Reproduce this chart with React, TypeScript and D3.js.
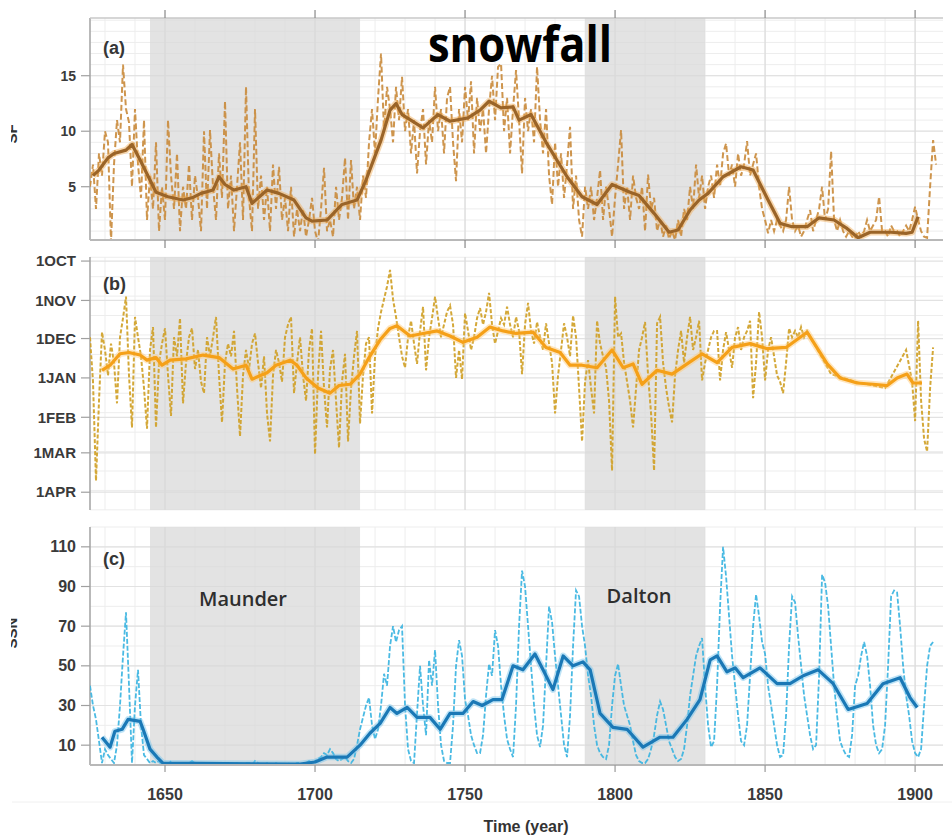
import React from 'react';
import * as d3 from 'd3';

const W = 952;
const H = 836;

// ---------- axis / categories ----------
const xDomain = [1625, 1909.3];
const xMajorYears = [1650, 1700, 1750, 1800, 1850, 1900];
const xMinorYears = d3.range(1630, 1910, 10);
const maunder = [1645, 1715];
const dalton = [1790, 1830];

const aTicks = [5, 10, 15];
const bTickDays = [0, 31, 61, 92, 123, 151, 182];
const bTickLabels = ['1OCT', '1NOV', '1DEC', '1JAN', '1FEB', '1MAR', '1APR'];
const cTicks = [10, 30, 50, 70, 90, 110];

// ---------- (a) snowfall ----------
const rawAStart = 1625;
const rawA = [
  5, 7, 3, 8, 6, 10, 9, 0, 7, 11,
  9, 16, 12, 10.8, 5, 12, 7, 4, 11, 2,
  6, 3, 9, 1, 5, 2, 11, 6, 3, 8,
  1, 5, 3, 7, 2, 6, 4, 1, 10, 3,
  10.1, 5, 2, 8, 4, 12.7, 3, 6, 1, 5,
  9, 2, 14, 4, 1, 12, 3, 6, 2, 5,
  1, 7, 3, 6.8, 2, 4, 1, 5, 0.5, 3,
  1, 3, 0.5, 2, 4, 1, 0, 3, 6.7, 1,
  2, 0.5, 5, 2, 4, 7.6, 2, 7.4, 3, 5,
  2, 6, 4, 9, 12, 8, 13, 17, 10, 14,
  12, 9, 14, 11, 14.9, 10, 12, 8, 11, 6.2,
  10, 12, 7, 11, 9, 14, 10, 12, 8, 13,
  14, 9, 5.5, 12, 9, 14, 11, 14.5, 8, 13,
  10, 12, 8, 12, 15, 11, 15.8, 16.1, 10, 13,
  8, 12, 15.5, 11, 6.2, 13, 10, 12, 9, 15.8,
  11, 8, 12, 6, 3.4, 9, 5, 8, 4, 7,
  10.4, 3, 6, 2, 0.5, 5, 3, 5, 2, 4,
  6.5, 2, 5, 3, 0.5, 4, 7, 10.1, 3, 5,
  2, 6, 4, 3, 5, 1, 6.1, 3, 4, 1,
  2, 0.5, 1.5, 0.3, 1, 0.2, 2, 0.5, 3, 2,
  5, 3, 7, 4, 6, 3, 5, 6, 4, 7,
  5, 8, 8.9, 6, 7, 5, 8, 6, 7, 9.1,
  6, 7, 8, 5, 3, 2, 0.8, 2, 1, 2,
  1.5, 1, 2, 5, 2, 1, 1.5, 0.5, 1, 2,
  2.9, 1, 2, 3, 5, 2, 3, 8.2, 2, 1,
  2, 1, 0.5, 1, 0.5, 0.3, 1, 0.5, 1, 2,
  1, 1.5, 2, 4.1, 1, 1, 0.5, 1.5, 1, 1,
  0.5, 1, 1.5, 1, 2, 3.2, 2, 1, 0.5, 0.4,
  5, 9.2, 7,
];
const smoothAYears = [1626, 1628, 1631, 1633, 1637, 1639, 1641.7, 1645, 1647, 1651, 1656, 1659, 1662, 1666, 1668, 1670, 1673, 1677, 1679, 1684, 1688, 1693, 1697, 1699, 1704, 1709, 1714, 1717, 1722, 1725, 1727, 1729, 1736, 1741, 1745, 1751, 1755, 1758, 1762, 1766, 1768, 1772, 1777, 1784, 1789, 1794, 1799, 1805, 1808, 1813, 1818, 1821, 1825, 1828, 1831, 1836, 1842, 1846, 1851, 1855, 1859, 1864, 1868, 1873, 1877, 1881, 1885, 1892, 1897, 1899, 1901];
const smoothAVals = [6.0, 6.5, 7.6, 8.0, 8.3, 8.8, 7.4, 5.6, 4.5, 4.1, 3.8, 4.0, 4.4, 4.7, 5.9, 5.2, 4.7, 5.0, 3.5, 4.7, 4.4, 3.8, 2.2, 1.9, 2.0, 3.4, 3.8, 5.6, 9.2, 11.9, 12.5, 11.5, 10.3, 11.5, 10.9, 11.2, 11.9, 12.7, 12.1, 12.2, 11.0, 11.5, 9.0, 5.9, 4.1, 3.4, 5.2, 4.5, 4.2, 2.6, 0.9, 1.1, 2.9, 3.8, 4.4, 5.9, 6.8, 6.5, 3.8, 1.7, 1.4, 1.4, 2.2, 2.0, 1.3, 0.4, 0.9, 0.9, 0.8, 0.9, 2.3];

// ---------- (b) date of first snow (days after 1 Oct) ----------
const rawBStart = 1625;
const rawB = [
  60, 95, 173, 110, 56, 70, 90, 65, 80, 112,
  60, 45, 28, 90, 131, 44, 60, 75, 100, 132,
  70, 52, 131, 80, 65, 53, 90, 122, 60, 75,
  45, 112, 80, 60, 53, 85, 70, 95, 104, 60,
  75, 60, 44, 90, 127, 80, 65, 75, 55, 100,
  138, 90, 70, 85, 65, 57, 80, 100, 75, 120,
  142, 90, 70, 80, 95, 60, 50, 44, 104, 80,
  60, 90, 110, 70, 53, 152, 90, 55, 100, 131,
  85, 70, 110, 147, 95, 73, 142, 100, 75, 55,
  128, 90, 65, 60, 120, 75, 53, 40, 30, 20,
  7, 30, 44, 60, 75, 84, 60, 47, 65, 81,
  55, 36, 86, 60, 45, 28, 45, 60, 50, 40,
  35, 50, 92, 70, 93, 41, 55, 70, 60, 45,
  37, 50, 40, 25, 50, 65, 55, 45, 50, 36,
  50, 60, 44, 55, 89, 50, 33, 55, 65, 48,
  60, 70, 49, 65, 80, 120, 90, 70, 49, 60,
  75, 43, 60, 100, 142, 95, 78, 100, 120, 47,
  65, 75, 84, 110, 165, 28, 60, 57, 80, 95,
  110, 131, 100, 70, 60, 48, 90, 120, 165, 49,
  44, 80, 100, 115, 127, 90, 70, 55, 80, 60,
  44, 70, 60, 47, 94, 80, 70, 60, 55, 55,
  94, 70, 56, 70, 84, 60, 52, 70, 60, 55,
  47, 108, 80, 40, 60, 94, 70, 60, 75, 90,
  95, 104, 80, 53, 60, 55, 60, 52, 60, 55,
];
const rawBLateYears = [1872, 1880, 1890, 1897, 1899, 1900, 1901, 1902, 1903, 1904, 1905, 1906];
const rawBLateVals = [89, 95, 100, 70, 95, 126, 47, 110, 140, 150, 100, 68];
const smoothBYears = [1629, 1631.7, 1635, 1638, 1641.7, 1644, 1647, 1649, 1651.7, 1657, 1662.7, 1668, 1672.7, 1677, 1679, 1684, 1687, 1691.7, 1694, 1697, 1701, 1705, 1708, 1711.7, 1715, 1718, 1721.7, 1725, 1727.3, 1731.7, 1736, 1740.7, 1745, 1749.3, 1754, 1758.3, 1762.7, 1767, 1772.7, 1777, 1781.7, 1785, 1789, 1794, 1799, 1802.7, 1806, 1809, 1814, 1819, 1824, 1829, 1834, 1839, 1845, 1850.7, 1857, 1864, 1870.7, 1875, 1880.7, 1886, 1890.7, 1894, 1897.3, 1899.3, 1902.3];
const smoothBVals = [86, 82, 73, 72, 74, 78, 76, 82, 78, 77, 74, 76, 85, 82, 93, 88, 82, 78, 82, 92, 100, 104, 98, 97, 89, 76, 62, 53, 51, 59, 57, 55, 59, 64, 60, 52, 55, 57, 56, 68, 72, 82, 82, 84, 70, 84, 81, 97, 86, 89, 81, 73, 80, 68, 65, 69, 68, 56, 81, 92, 96, 97, 98, 92, 89, 96, 96];

// ---------- (c) sunspot number ----------
const rawCStart = 1625;
const rawC = [
  40, 30, 23, 12, 1, 8, 5, 3, 1, 10,
  30, 55, 77, 40, 1, 30, 48, 20, 5, 3,
  1, 2, 1, 2, 0, 1, 0, 2, 0, 0,
  1, 0, 0, 1, 2, 1, 0, 0, 1, 0,
  0, 1, 0, 0, 0, 1, 1, 0, 0, 1,
  0, 0, 1, 1, 0, 2, 1, 0, 0, 1,
  0, 0, 1, 0, 0, 0, 1, 0, 0, 1,
  1, 0, 1, 2, 1, 2, 3, 4, 6, 5,
  8, 6, 3, 2, 3, 4, 2, 1, 3, 10,
  18, 24, 30, 34, 20, 13, 18, 30, 46, 40,
  60, 70, 62, 68, 70, 30, 8, 2, 1, 26,
  50, 30, 15, 53, 40, 58, 30, 10, 2, 1,
  1, 20, 50, 63, 55, 33, 25, 15, 10, 6,
  6, 15, 35, 51, 45, 68, 60, 40, 25, 13,
  8, 4, 30, 70, 98, 90, 70, 50, 30, 15,
  9, 20, 50, 80, 72, 55, 40, 25, 10, 4,
  25, 60, 88, 85, 70, 60, 45, 35, 20, 10,
  6, 4, 3, 10, 30, 45, 51, 40, 30, 25,
  20, 12, 5, 2, 1, 1, 3, 8, 15, 25,
  32, 28, 20, 12, 8, 4, 2, 3, 8, 20,
  35, 45, 55, 60, 64, 40, 20, 9, 12, 40,
  80, 110, 95, 75, 55, 40, 25, 12, 10, 20,
  45, 70, 86, 75, 62, 56, 40, 30, 20, 10,
  4, 5, 25, 60, 85, 82, 65, 50, 35, 25,
  15, 8, 10, 45, 96, 92, 80, 60, 40, 25,
  12, 8, 5, 4, 15, 40, 45, 55, 62, 55,
  40, 20, 10, 6, 8, 20, 50, 85, 88, 87,
  70, 50, 35, 25, 12, 6, 4, 8, 30, 50,
  60, 62,
];
const smoothCYears = [1629, 1631.7, 1633.3, 1635.7, 1637.7, 1641.7, 1642.7, 1645, 1647.3, 1649.3, 1660, 1680, 1695, 1700, 1704, 1710.7, 1715, 1718.3, 1721.7, 1725, 1727.3, 1730.7, 1734, 1738.3, 1741.7, 1745, 1749.3, 1752.7, 1755.7, 1759.3, 1762.3, 1766, 1769.3, 1773.3, 1776, 1779.3, 1782.7, 1786, 1789.3, 1791.7, 1795, 1799.3, 1804, 1809.3, 1815, 1819.3, 1824, 1828.3, 1831.7, 1834, 1837.3, 1840, 1842.7, 1848.3, 1854, 1858.3, 1862.7, 1867.7, 1872.7, 1877.7, 1884, 1889.3, 1895, 1898.3, 1900.7];
const smoothCVals = [14, 9, 17, 18, 23, 22, 18, 8, 4, 1, 0.8, 0.6, 0.5, 1.5, 4, 4, 10, 16, 21, 29, 26, 29, 24, 24, 18, 26, 26, 32, 30, 33, 33, 50, 48, 56, 48, 38, 55, 50, 52, 48, 26, 19, 18, 9, 14, 14, 23, 33, 53, 55, 47, 49, 44, 49, 41, 41, 45, 48, 41, 28, 31, 41, 44, 34, 29];

// ---------- helpers ----------
const x = d3.scaleLinear().domain(xDomain).range([90, 943]);
const X0 = 90;
const X1 = 943;

const annual = (start: number, vals: number[]) => vals.map((v, i) => [start + i, v] as [number, number]);
const pairs = (ys: number[], vs: number[]) => ys.map((y, i) => [y, vs[i]] as [number, number]);

const TICK_FONT = '"Liberation Sans", Arial, sans-serif';

type PanelProps = {
  id: string;
  top: number;
  bottom: number;
  y: d3.ScaleLinear<number, number>;
  ticks: number[];
  tickLabels: string[];
  minor: number[];
  fontSize: number;
  label: string;
  labelY: number;
  raw: [number, number][];
  smooth: [number, number][];
  rawColor: string;
  rawWidth: number;
  smoothColor: string;
  haloColor: string;
  dash: string;
};

function Panel(p: PanelProps) {
  const line = d3
    .line<[number, number]>()
    .x((d) => x(d[0]))
    .y((d) => p.y(d[1]));
  const h = p.bottom - p.top;
  return (
    <g>
      <defs>
        <clipPath id={`clip-${p.id}`}>
          <rect x={X0} y={p.top} width={X1 - X0} height={h} />
        </clipPath>
      </defs>
      <rect x={X0} y={p.top} width={X1 - X0} height={h} fill="#ffffff" />
      {p.minor.map((v, i) => (
        <line key={'hm' + i} x1={X0} x2={X1} y1={p.y(v)} y2={p.y(v)} stroke="#ededed" strokeWidth={1} />
      ))}
      {xMinorYears.map((yr) => (
        <line key={'vm' + yr} x1={x(yr)} x2={x(yr)} y1={p.top} y2={p.bottom} stroke="#ededed" strokeWidth={1} />
      ))}
      {p.ticks.map((v, i) => (
        <line key={'hM' + i} x1={X0} x2={X1} y1={p.y(v)} y2={p.y(v)} stroke="#e2e2e2" strokeWidth={1.2} />
      ))}
      {xMajorYears.map((yr) => (
        <line key={'vM' + yr} x1={x(yr)} x2={x(yr)} y1={p.top} y2={p.bottom} stroke="#dcdcdc" strokeWidth={1.2} />
      ))}
      {[maunder, dalton].map((r, i) => (
        <rect key={'sh' + i} x={x(r[0])} y={p.top} width={x(r[1]) - x(r[0])} height={h} fill="#d8d8d8" opacity={0.72} />
      ))}
      <line x1={X0} x2={X0} y1={p.top} y2={p.bottom} stroke="#a8a8a8" strokeWidth={1.6} />
      {p.ticks.map((v, i) => (
        <g key={'yt' + i}>
          <line x1={81} x2={X0} y1={p.y(v)} y2={p.y(v)} stroke="#a0a0a0" strokeWidth={1.2} />
          <text
            x={76}
            y={p.y(v)}
            dy="0.35em"
            textAnchor="end"
            fontFamily={TICK_FONT}
            fontWeight="bold"
            fontSize={p.fontSize}
            fill="#3a3a3a"
          >
            {p.tickLabels[i]}
          </text>
        </g>
      ))}
      <g clipPath={`url(#clip-${p.id})`}>
        <path d={line(p.raw) || ''} fill="none" stroke={p.rawColor} strokeWidth={p.rawWidth} strokeDasharray={p.dash} opacity={0.9} />
        <path d={line(p.smooth) || ''} fill="none" stroke={p.haloColor} strokeWidth={6.5} strokeLinejoin="round" opacity={0.45} />
        <path d={line(p.smooth) || ''} fill="none" stroke={p.smoothColor} strokeWidth={3.2} strokeLinejoin="round" />
      </g>
      <text x={103} y={p.labelY} dy="0.35em" fontFamily={TICK_FONT} fontWeight="bold" fontSize={18} fill="#363636">
        {p.label}
      </text>
    </g>
  );
}

export default function App() {
  const yA = d3.scaleLinear().domain([0.2, 20.2]).range([240, 18]);
  const yB = d3.scaleLinear().domain([-3.2, 196]).range([257, 510]);
  const yC = d3.scaleLinear().domain([0, 120]).range([765, 527]);

  const rawBAll = annual(rawBStart, rawB).concat(pairs(rawBLateYears, rawBLateVals));

  return (
    <svg width={W} height={H} style={{ position: 'absolute', left: 0, top: 0, background: '#fff' }}>
      <defs>
        <clipPath id="leftclip">
          <rect x={11} y={0} width={20} height={H} />
        </clipPath>
      </defs>
      <rect x={0} y={0} width={W} height={H} fill="#fff" />

      <Panel
        id="a"
        top={18}
        bottom={240}
        y={yA}
        ticks={aTicks}
        tickLabels={aTicks.map(String)}
        minor={d3.range(1, 21, 1)}
        fontSize={14}
        label="(a)"
        labelY={48}
        raw={annual(rawAStart, rawA)}
        smooth={pairs(smoothAYears, smoothAVals)}
        rawColor="#c98a3a"
        rawWidth={2}
        smoothColor="#9a6428"
        haloColor="#f0a850"
        dash="6,3"
      />
      <Panel
        id="b"
        top={257}
        bottom={510}
        y={yB}
        ticks={bTickDays}
        tickLabels={bTickLabels}
        minor={d3.range(-3, 196, 15.3)}
        fontSize={15}
        label="(b)"
        labelY={284}
        raw={rawBAll}
        smooth={pairs(smoothBYears, smoothBVals)}
        rawColor="#cf9e22"
        rawWidth={2}
        smoothColor="#f5a018"
        haloColor="#ffc870"
        dash="4,2"
      />
      <Panel
        id="c"
        top={527}
        bottom={765}
        y={yC}
        ticks={cTicks}
        tickLabels={cTicks.map(String)}
        minor={d3.range(0, 121, 10)}
        fontSize={16}
        label="(c)"
        labelY={559}
        raw={annual(rawCStart, rawC)}
        smooth={pairs(smoothCYears, smoothCVals)}
        rawColor="#36b2e0"
        rawWidth={1.8}
        smoothColor="#1a78b6"
        haloColor="#6ec0ea"
        dash="5,2"
      />

      <line x1={X0} x2={X1} y1={18} y2={18} stroke="#c8c8c8" strokeWidth={1.5} />
      <line x1={X0} x2={X1} y1={240} y2={240} stroke="#b8b8b8" strokeWidth={2} />
      <line x1={X0} x2={X1} y1={765} y2={765} stroke="#b8b8b8" strokeWidth={2} />
      {xMajorYears.map((yr) => (
        <g key={'xt' + yr}>
          <line x1={x(yr)} x2={x(yr)} y1={10} y2={18} stroke="#888" strokeWidth={1.2} />
          <line x1={x(yr)} x2={x(yr)} y1={240} y2={248} stroke="#888" strokeWidth={1.2} />
          <line x1={x(yr)} x2={x(yr)} y1={765} y2={772} stroke="#999" strokeWidth={1.2} />
          <text
            x={x(yr)}
            y={794}
            dy="0.35em"
            textAnchor="middle"
            fontFamily={TICK_FONT}
            fontWeight="bold"
            fontSize={16}
            fill="#3a3a3a"
          >
            {yr}
          </text>
        </g>
      ))}
      <line x1={12} x2={952} y1={802} y2={802} stroke="#f0f0f0" strokeWidth={1} />

      <text x={243} y={606} textAnchor="middle" fontFamily='"Open Sans", sans-serif' fontWeight={600} fontSize={19} fill="#2e2e2e" textLength={88} lengthAdjust="spacingAndGlyphs">
        Maunder
      </text>
      <text x={639} y={603} textAnchor="middle" fontFamily='"Open Sans", sans-serif' fontWeight={600} fontSize={19} fill="#2e2e2e" textLength={65} lengthAdjust="spacingAndGlyphs">
        Dalton
      </text>
      <text x={428} y={62} fontFamily='"Open Sans", sans-serif' fontWeight="bold" fontSize={50} fill="#000" textLength={184} lengthAdjust="spacingAndGlyphs">
        snowfall
      </text>
      <text x={526} y={832} textAnchor="middle" fontFamily={TICK_FONT} fontWeight="bold" fontSize={16} fill="#333">
        Time (year)
      </text>

      <g clipPath="url(#leftclip)">
        <text transform="translate(17,134) rotate(-90)" textAnchor="middle" fontFamily={TICK_FONT} fontWeight="bold" fontSize={15} fill="#333">
          SF
        </text>
        <text transform="translate(17,633) rotate(-90)" textAnchor="middle" fontFamily={TICK_FONT} fontWeight="bold" fontSize={15} fill="#333">
          SSN
        </text>
      </g>
    </svg>
  );
}
